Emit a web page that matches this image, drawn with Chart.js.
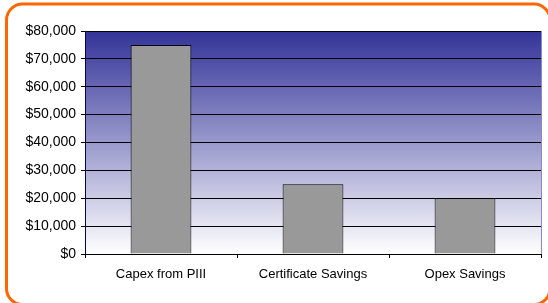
<!DOCTYPE html>
<html>
<head>
<meta charset="utf-8">
<script src="https://cdn.jsdelivr.net/npm/chart.js@4/dist/chart.umd.min.js"></script>
<style>
html,body{margin:0;padding:0;background:#fff;overflow:hidden;}
#wrap{position:relative;width:548px;height:303px;}
</style>
</head>
<body>
<div id="wrap"><canvas id="c" width="548" height="303"></canvas></div>
<script>
const categories = ["Capex from PIII", "Certificate Savings", "Opex Savings"];
const values = [75000, 25000, 20000];
const yMin = 0;
const yMax = 80000;
const yStep = 10000;

const decor = {
  id: 'decor',
  beforeDraw(chart) {
    const {ctx, chartArea: a} = chart;
    ctx.save();
    const g = ctx.createLinearGradient(0, a.top, 0, a.bottom);
    g.addColorStop(0, '#333399');
    g.addColorStop(1, '#ffffff');
    ctx.fillStyle = g;
    ctx.fillRect(a.left, a.top, a.right - a.left, a.bottom - a.top);
    ctx.restore();
  },
  afterDraw(chart) {
    const {ctx, chartArea: a} = chart;
    ctx.save();
    ctx.strokeStyle = '#8888cc';
    ctx.lineWidth = 1;
    ctx.beginPath();
    ctx.moveTo(a.right + 0.5, a.top);
    ctx.lineTo(a.right + 0.5, a.bottom);
    ctx.stroke();
    const x0 = 6.5, y0 = 4, x1 = 550, y1 = 304.5, r = 16;
    ctx.strokeStyle = '#ff6600';
    ctx.lineWidth = 3;
    ctx.beginPath();
    ctx.moveTo(x0 + r, y0);
    ctx.lineTo(x1 - r, y0);
    ctx.arcTo(x1, y0, x1, y0 + r, r);
    ctx.lineTo(x1, y1 - r);
    ctx.arcTo(x1, y1, x1 - r, y1, r);
    ctx.lineTo(x0 + r, y1);
    ctx.arcTo(x0, y1, x0, y1 - r, r);
    ctx.lineTo(x0, y0 + r);
    ctx.arcTo(x0, y0, x0 + r, y0, r);
    ctx.closePath();
    ctx.stroke();
    ctx.restore();
  }
};

new Chart(document.getElementById('c'), {
  type: 'bar',
  data: {
    labels: categories,
    datasets: [{
      data: values,
      backgroundColor: '#999999',
      borderColor: '#000000',
      borderWidth: 1,
      barPercentage: 0.4,
      categoryPercentage: 1.0
    }]
  },
  options: {
    responsive: false,
    animation: false,
    devicePixelRatio: 1,
    layout: { padding: { top: 31, right: 7, bottom: 0, left: 0 } },
    plugins: { legend: { display: false }, tooltip: { enabled: false } },
    scales: {
      x: {
        afterFit(s) { s.height = 49; },
        grid: { drawOnChartArea: false, drawTicks: true, tickLength: 4, color: '#000000' },
        border: { color: '#000000', width: 1 },
        ticks: { color: '#000000', padding: 9, font: { family: 'Liberation Sans, Arial, sans-serif', size: 13 } }
      },
      y: {
        min: yMin, max: yMax,
        afterFit(s) { s.width = 85; },
        grid: { color: '#000000', tickLength: 4, drawTicks: true },
        border: { color: '#000066', width: 1 },
        ticks: {
          stepSize: yStep, color: '#000000', padding: 5,
          font: { family: 'Liberation Sans, Arial, sans-serif', size: 14 },
          callback: v => '$' + Number(v).toLocaleString('en-US')
        }
      }
    }
  },
  plugins: [decor]
});
</script>
</body>
</html>
